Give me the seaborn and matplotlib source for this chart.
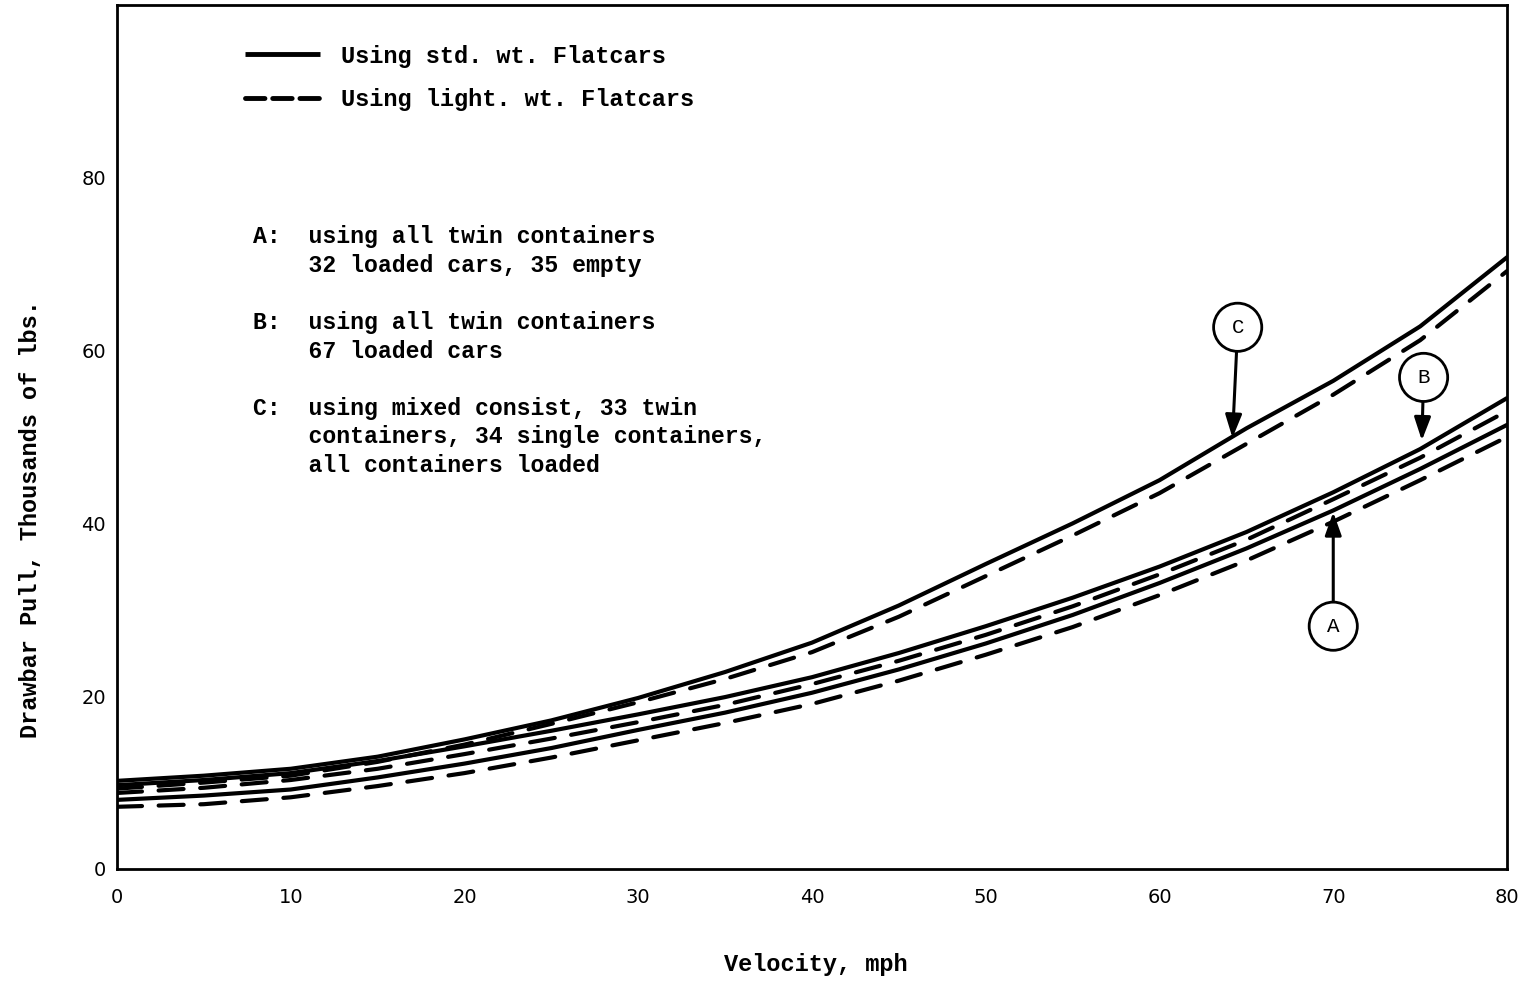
import matplotlib
matplotlib.use("Agg")
import matplotlib.pyplot as plt
import numpy as np
import pandas as pd
import seaborn as sns
from matplotlib.lines import Line2D

# ---- data ----
velocity = [0, 5, 10, 15, 20, 25, 30, 35, 40, 45, 50, 55, 60, 65, 70, 75, 80]
c_std   = [10.2, 10.8, 11.6, 13.0, 15.0, 17.2, 19.8, 22.8, 26.2, 30.5, 35.3, 40.0, 45.0, 51.0, 56.5, 62.8, 70.8]
c_light = [9.3, 10.0, 10.8, 12.4, 14.4, 16.8, 19.3, 22.0, 25.1, 29.2, 33.9, 38.6, 43.5, 49.2, 54.9, 61.2, 69.2]
b_std   = [9.7, 10.3, 11.1, 12.5, 14.2, 16.0, 17.9, 19.9, 22.2, 25.0, 28.1, 31.4, 35.0, 39.0, 43.6, 48.6, 54.5]
b_light = [8.8, 9.4, 10.3, 11.6, 13.3, 15.1, 17.0, 19.0, 21.4, 24.1, 27.1, 30.4, 34.1, 38.1, 42.8, 47.6, 53.0]
a_std   = [8.0, 8.5, 9.2, 10.6, 12.2, 14.0, 16.1, 18.1, 20.4, 23.1, 26.1, 29.4, 33.1, 37.1, 41.5, 46.3, 51.4]
a_light = [7.2, 7.5, 8.3, 9.6, 11.1, 12.9, 14.9, 16.9, 19.1, 21.8, 24.8, 28.0, 31.7, 35.7, 40.2, 45.0, 50.0]

x_ticks = [0, 10, 20, 30, 40, 50, 60, 70, 80]
y_ticks = [0, 20, 40, 60, 80]

legend_labels = ["Using std. wt. Flatcars", "Using light. wt. Flatcars"]
notes = ("A:  using all twin containers\n"
         "    32 loaded cars, 35 empty\n"
         "\n"
         "B:  using all twin containers\n"
         "    67 loaded cars\n"
         "\n"
         "C:  using mixed consist, 33 twin\n"
         "    containers, 34 single containers,\n"
         "    all containers loaded")

# label: (text position, arrow tip)
callouts = {
    "C": ((64.5, 62.7), (64.2, 49.9)),
    "B": ((75.2, 56.9), (75.1, 49.6)),
    "A": ((70.0, 28.1), (70.0, 41.3)),
}

# ---- long-form table ----
series = {
    ("C", "std"): c_std, ("C", "light"): c_light,
    ("B", "std"): b_std, ("B", "light"): b_light,
    ("A", "std"): a_std, ("A", "light"): a_light,
}
rows = []
for (curve, wt), vals in series.items():
    for v, p in zip(velocity, vals):
        rows.append({"curve": curve + wt, "weight": wt, "Velocity": v, "Pull": p})
df = pd.DataFrame(rows)

sns.set_style("white")
plt.rcParams["font.family"] = ["Liberation Mono", "DejaVu Sans"]
plt.rcParams["text.color"] = "black"
plt.rcParams["axes.labelcolor"] = "black"

fig = plt.figure(figsize=(15.28, 9.81), dpi=100)
ax = fig.add_axes([117 / 1528, 1 - 869 / 981, 1390 / 1528, 864 / 981])

sns.lineplot(data=df, x="Velocity", y="Pull", units="curve", estimator=None,
             style="weight", dashes={"std": "", "light": (6, 4)},
             color="black", linewidth=3, legend=False, ax=ax,
             dash_capstyle="round", solid_capstyle="round", solid_joinstyle="round")

ax.set_xlim(0, 80)
ax.set_ylim(0, 100)
ax.set_xticks(x_ticks)
ax.set_yticks(y_ticks)
for sp in ax.spines.values():
    sp.set_linewidth(2)
    sp.set_color("black")
ax.tick_params(axis="both", direction="in", width=2, colors="black",
               labelsize=14, labelfontfamily="DejaVu Sans")
ax.tick_params(axis="y", length=17, pad=8)
ax.tick_params(axis="x", length=16, pad=14)

ax.set_xlabel("Velocity, mph", fontsize=17, fontweight="bold")
ax.set_ylabel("Drawbar Pull, Thousands of lbs.", fontsize=17, fontweight="bold")
ax.xaxis.set_label_coords(0.503, -0.097)
ax.yaxis.set_label_coords(-0.054, 0.405)

handles = [Line2D([], [], color="black", lw=3.5, ls="-", solid_capstyle="butt"),
           Line2D([], [], color="black", lw=3.5, ls=(0, (4, 1.6)), dash_capstyle="round")]
leg = ax.legend(handles, legend_labels, loc="upper left", bbox_to_anchor=(0.092, 0.954),
                frameon=False, fontsize=17, handlelength=3.2, handletextpad=0.85,
                labelspacing=0.85, borderpad=0, borderaxespad=0,
                prop={"size": 17, "weight": "bold", "family": ["Liberation Mono", "DejaVu Sans"]})

ax.text(0.0978, 0.745, notes, transform=ax.transAxes, fontsize=16.7, fontweight="bold",
        va="top", ha="left", linespacing=1.31)

for lab, (txt, tip) in callouts.items():
    ax.annotate(lab, xy=tip, xytext=txt, ha="center", va="center", fontsize=15,
                bbox=dict(boxstyle="circle,pad=0.7", fc="white", ec="black", lw=2),
                arrowprops=dict(arrowstyle="-|>,head_length=0.7,head_width=0.25",
                                color="black", lw=2.2, mutation_scale=20,
                                shrinkA=0, shrinkB=0))

fig.savefig("out.png", dpi=100, facecolor="white")
